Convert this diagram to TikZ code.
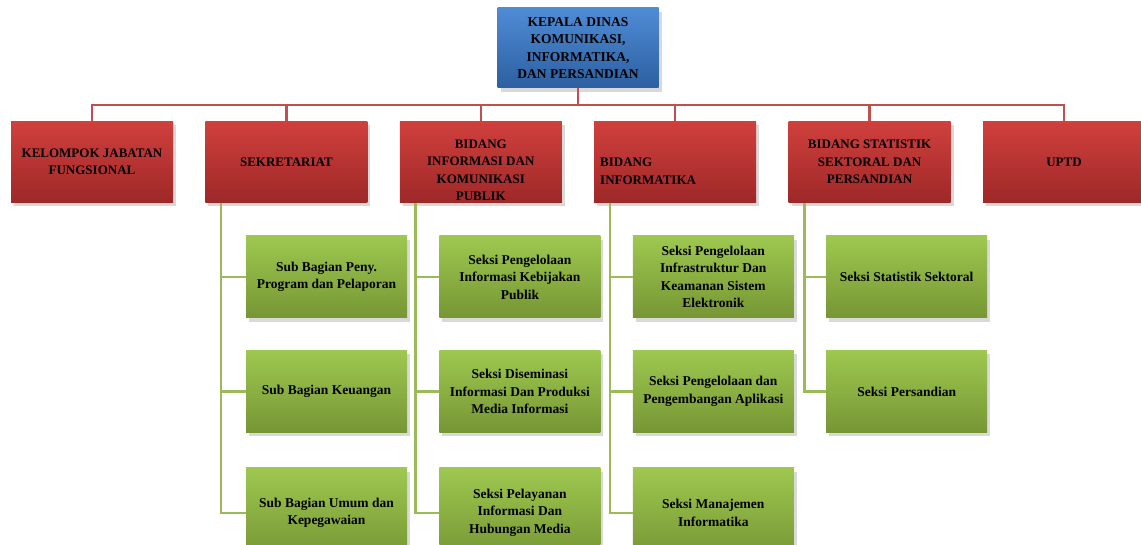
\documentclass[tikz,border=0pt]{standalone}
\usepackage{fontspec}
\setmainfont{Liberation Serif}
\usetikzlibrary{positioning,shadows}

\definecolor{birumuda}{RGB}{79,140,214}
\definecolor{birutua}{RGB}{44,95,160}
\definecolor{merahmuda}{RGB}{208,64,61}
\definecolor{merahtua}{RGB}{158,40,40}
\definecolor{hijaumuda}{RGB}{158,200,80}
\definecolor{hijautua}{RGB}{118,150,52}
\definecolor{garismerah}{RGB}{192,80,77}
\definecolor{garishijau}{RGB}{155,187,89}

\begin{document}
\begin{tikzpicture}[x=1pt,y=-1pt,node distance=32pt]
  \tikzstyle{kotak}=[rectangle,draw=none,inner xsep=4pt,inner ysep=0pt,align=center,
    drop shadow={shadow xshift=3pt,shadow yshift=-4pt,opacity=0.3}]
  \tikzstyle{kepala}=[kotak,top color=birumuda,bottom color=birutua,minimum width=161pt,
    minimum height=80pt,font=\fontsize{13.5}{17.5}\selectfont\bfseries]
  \tikzstyle{bidang}=[kotak,top color=merahmuda,bottom color=merahtua,minimum width=162pt,
    minimum height=81pt,font=\fontsize{13}{17.5}\selectfont\bfseries]
  \tikzstyle{seksi}=[kotak,top color=hijaumuda,bottom color=hijautua,minimum width=161pt,
    minimum height=82pt,font=\fontsize{13.5}{17.5}\selectfont\bfseries]
  \tikzstyle{merah}=[draw=garismerah,line width=2.5pt]
  \tikzstyle{hijau}=[draw=garishijau,line width=2.5pt]

  \clip (0,0) rectangle (1141,545);

  \begin{scope}
    % kepala dinas dan bidang
    \node [kepala] (kadis) at (578,48) {KEPALA DINAS\\KOMUNIKASI,\\INFORMATIKA,\\DAN PERSANDIAN};
    \node [bidang] (kjf) at (92,162) {KELOMPOK JABATAN\\FUNGSIONAL};
    \node [bidang] (sekr) [right = of kjf] {SEKRETARIAT};
    \node [bidang] (ikp) [right = of sekr] {\rule{0pt}{25pt}BIDANG\\INFORMASI DAN\\KOMUNIKASI\\PUBLIK};
    \node [bidang,text width=150pt,align=left] (inf) [right = of ikp] {\rule{0pt}{27pt}BIDANG\\INFORMATIKA};
    \node [bidang] (sss) [right = of inf] {BIDANG STATISTIK\\SEKTORAL DAN\\PERSANDIAN};
    \node [bidang] (uptd) [right = of sss] {UPTD};

    % sub bagian dan seksi
    \node [seksi] (sb1) at (326.5,277) {Sub Bagian Peny.\\Program dan Pelaporan};
    \node [seksi] (sb2) [below = of sb1] {Sub Bagian Keuangan};
    \node [seksi,minimum height=90pt] (sb3) [below = 35pt of sb2] {Sub Bagian Umum dan\\Kepegawaian};
    \node [seksi] (ikp1) [right = of sb1] {Seksi Pengelolaan\\Informasi Kebijakan\\Publik};
    \node [seksi] (ikp2) [right = of sb2] {Seksi Diseminasi\\Informasi Dan Produksi\\Media Informasi};
    \node [seksi,minimum height=90pt] (ikp3) [right = of sb3] {Seksi Pelayanan\\Informasi Dan\\Hubungan Media};
    \node [seksi] (inf1) [right = of ikp1] {Seksi Pengelolaan\\Infrastruktur Dan\\Keamanan Sistem\\Elektronik};
    \node [seksi] (inf2) [right = of ikp2] {Seksi Pengelolaan dan\\Pengembangan Aplikasi};
    \node [seksi,minimum height=90pt] (inf3) [right = of ikp3] {Seksi Manajemen\\Informatika};
    \node [seksi] (sss1) [right = of inf1] {Seksi Statistik Sektoral};
    \node [seksi] (sss2) [right = of inf2] {Seksi Persandian};
  \end{scope}

  \begin{scope}
    \coordinate (simpul) at (578,105);
    \draw [merah] (kadis) -- (simpul);
    \draw [merah] (kjf.north) |- (simpul) -| (uptd.north);
    \foreach \b in {sekr,ikp,inf,sss}
      \draw [merah] (\b.north) -- (\b.north |- simpul);

    \foreach \b/\s in {sekr/sb,ikp/ikp,inf/inf}
      \foreach \i in {1,2,3}
        \draw [hijau] ([xshift=16pt]\b.south west) |- (\s\i.west);
    \foreach \i in {1,2}
      \draw [hijau] ([xshift=16pt]sss.south west) |- (sss\i.west);
  \end{scope}
\end{tikzpicture}
\end{document}
